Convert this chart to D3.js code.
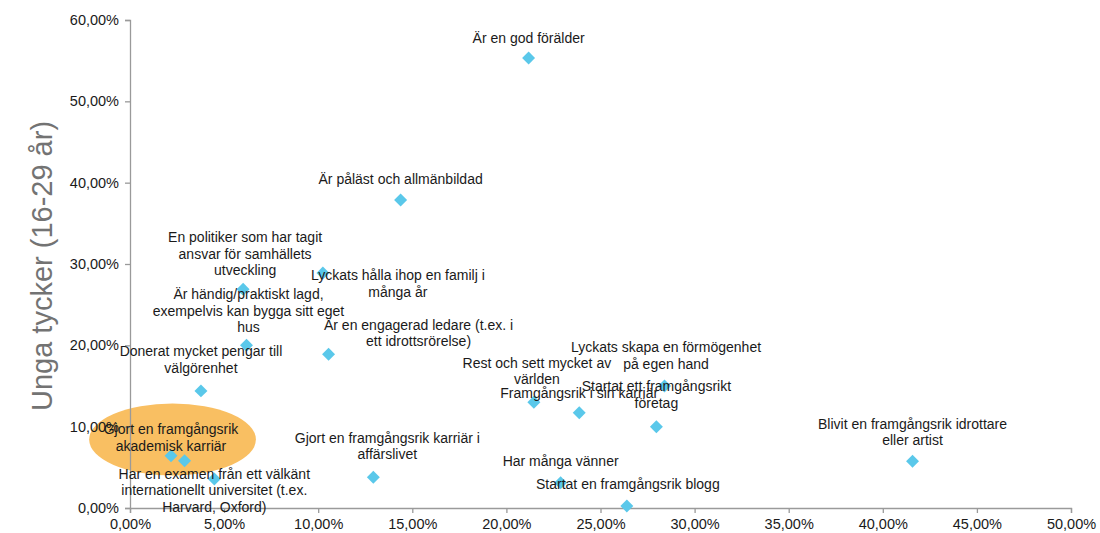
<!DOCTYPE html>
<html>
<head>
<meta charset="utf-8">
<script src="https://cdn.jsdelivr.net/npm/d3@7"></script>
<style>
  html, body { margin: 0; padding: 0; background: #ffffff; }
  svg { display: block; font-family: "Liberation Sans", Arial, sans-serif; }
</style>
</head>
<body>
<svg id="chart" width="1100" height="533"></svg>
<script>
// ---- data ----
const categories = [
  "Är en god förälder",
  "Är påläst och allmänbildad",
  "En politiker som har tagit\nansvar för samhällets\nutveckling",
  "Lyckats hålla ihop en familj i\nmånga år",
  "Är händig/praktiskt lagd,\nexempelvis kan bygga sitt eget\nhus",
  "Är en engagerad ledare (t.ex. i\nett idrottsrörelse)",
  "Donerat mycket pengar till\nvälgörenhet",
  "Gjort en framgångsrik\nakademisk karriär",
  "",
  "Har en examen från ett välkänt\ninternationellt universitet (t.ex.\nHarvard, Oxford)",
  "Gjort en framgångsrik karriär i\naffärslivet",
  "Rest och sett mycket av\nvärlden",
  "Framgångsrik i sin karriär",
  "Lyckats skapa en förmögenhet\npå egen hand",
  "Startat ett framgångsrikt\nföretag",
  "Har många vänner",
  "Startat en framgångsrik blogg",
  "Blivit en framgångsrik idrottare\neller artist"
];
const xValues = [21.18, 14.38, 6.01, 10.25, 6.19, 10.55, 3.77, 2.18, 2.90, 4.48, 12.93, 21.46, 23.87, 28.40, 27.97, 22.88, 26.40, 41.58];
const yValues = [55.33, 37.87, 26.90, 28.90, 20.00, 18.90, 14.40, 6.43, 5.80, 3.57, 3.77, 13.00, 11.70, 15.00, 10.00, 3.10, 0.25, 5.74];

const xTicks = [0, 5, 10, 15, 20, 25, 30, 35, 40, 45, 50];
const yTicks = [0, 10, 20, 30, 40, 50, 60];
const yAxisTitle = "Unga tycker (16-29 år)";

// highlighted region (data units): centre x, centre y, radius x, radius y
const highlight = [2.26, 8.42, 4.43, 4.43];

// ---- layout (label offsets in px: dx, dy of last line from marker) ----
const labelDx = [0, 0, 2, 75, 2, 90, 0, 0, 0, 0, 14, 3, 0, 1.5, 0, 0, 1, 0];
const labelDy = [-20, -21, -19, 19, -18, -13, -23, -10, 0, 28, -23, -23, -20, -22, -24, -22, -22, -21];

const svg = d3.select("#chart");
const x = d3.scaleLinear().domain([0, 50]).range([130, 1071]);
const y = d3.scaleLinear().domain([0, 60]).range([508, 20]);
const fmt = v => d3.format(".2f")(v).replace(".", ",") + "%";
const axisColor = "#9a9a9a";

// highlight ellipse
svg.append("ellipse")
  .attr("cx", x(highlight[0]))
  .attr("cy", y(highlight[1]))
  .attr("rx", x(highlight[2]) - x(0))
  .attr("ry", y(0) - y(highlight[3]))
  .attr("fill", "#f9bf62");

// axes
const gx = svg.append("g").attr("transform", `translate(0,${y(0)})`)
  .call(d3.axisBottom(x).tickValues(xTicks).tickFormat(fmt).tickSize(5).tickPadding(6));
const gy = svg.append("g").attr("transform", `translate(${x(0)},0)`)
  .call(d3.axisLeft(y).tickValues(yTicks).tickFormat(fmt).tickSize(5).tickPadding(6));
[gx, gy].forEach(g => {
  g.select(".domain").attr("stroke", axisColor).attr("stroke-width", 1.3);
  g.selectAll(".tick line").attr("stroke", axisColor).attr("stroke-width", 1.3);
  g.selectAll(".tick text").attr("fill", "#1a1a1a")
    .style("font-family", "'Liberation Sans', Arial, sans-serif")
    .style("font-size", "14.5px");
});

// y axis title
svg.append("text")
  .attr("transform", `translate(52,${(y(0) + y(60)) / 2 + 2}) rotate(-90)`)
  .attr("text-anchor", "middle")
  .attr("fill", "#737373")
  .style("font-size", "29px")
  .text(yAxisTitle);

// markers
const pts = categories.map((c, i) => ({ name: c, xv: xValues[i], yv: yValues[i], i }));
svg.append("g").selectAll("path").data(pts).join("path")
  .attr("d", d3.symbol(d3.symbolSquare, 84))
  .attr("transform", d => `translate(${x(d.xv)},${y(d.yv)}) rotate(45)`)
  .attr("fill", "#5ac8ea");

// labels
const lh = 16.5;
const lbl = svg.append("g").attr("fill", "#1a1a1a").style("font-size", "14px");
pts.forEach(d => {
  if (!d.name) return;
  const lines = d.name.split("\n");
  const cx = x(d.xv) + labelDx[d.i];
  const lastY = y(d.yv) + labelDy[d.i];
  const t = lbl.append("text").attr("text-anchor", "middle");
  lines.forEach((ln, k) => {
    t.append("tspan")
      .attr("x", cx)
      .attr("y", lastY - (lines.length - 1 - k) * lh)
      .attr("dy", "0.35em")
      .text(ln);
  });
});
</script>
</body>
</html>
